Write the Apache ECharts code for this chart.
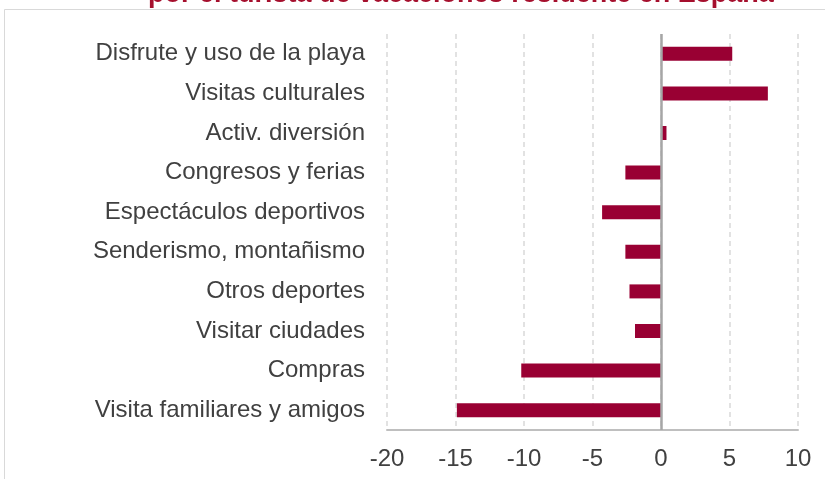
<!DOCTYPE html>
<html>
<head>
<meta charset="utf-8">
<script src="https://cdn.jsdelivr.net/npm/echarts@6/dist/echarts.min.js"></script>
<style>
  html, body { margin: 0; padding: 0; background: #fff; }
  #main { width: 825px; height: 479px; }
</style>
</head>
<body>
<div id="main"></div>
<script>
// categorias (de abajo arriba, como en el eje de Excel)
var categorias = [
  'Visita familiares y amigos',
  'Compras',
  'Visitar ciudades',
  'Otros deportes',
  'Senderismo, montañismo',
  'Espectáculos deportivos',
  'Congresos y ferias',
  'Activ. diversión',
  'Visitas culturales',
  'Disfrute y uso de la playa'
];
var valores = [-14.9, -10.2, -1.9, -2.3, -2.6, -4.3, -2.6, 0.4, 7.8, 5.2];
var titulo = 'por el turista de vacaciones residente en España';

var fuente = 'Liberation Sans, Arial, sans-serif';
var chart = echarts.init(document.getElementById('main'));

var option = {
  animation: false,
  backgroundColor: '#fff',
  graphic: [
    {
      type: 'rect',
      shape: { x: 4.5, y: 9.5, width: 900, height: 600 },
      style: { fill: 'none', stroke: '#d9d9d9', lineWidth: 1 },
      silent: true
    },
    {
      // titulo cortado por arriba, como en la imagen original
      type: 'text',
      left: 148,
      top: -19,
      style: {
        text: titulo,
        fill: '#a50f2d',
        font: 'bold 27px ' + fuente
      },
      silent: true
    }
  ],
  grid: {
    left: 387,
    right: 27,
    top: 34,
    bottom: 49
  },
  xAxis: {
    type: 'value',
    min: -20,
    max: 10,
    interval: 5,
    axisLine: { show: true, onZero: false, lineStyle: { color: '#bfbfbf', width: 2 } },
    axisTick: { show: false },
    axisLabel: { color: '#404040', fontSize: 24, fontFamily: fuente, margin: 17 },
    splitLine: { show: true, lineStyle: { color: '#d9d9d9', type: [5, 4], width: 1.5 } }
  },
  yAxis: {
    type: 'category',
    data: categorias,
    axisLine: { show: false },
    axisTick: { show: false },
    axisLabel: { color: '#404040', fontSize: 24, fontFamily: fuente, margin: 22, padding: [4, 0, 0, 0] },
    splitLine: { show: false }
  },
  series: [{
    type: 'bar',
    data: valores,
    barWidth: 14,
    itemStyle: { color: '#990033' },
    // linea del cero
    markLine: {
      silent: true,
      symbol: 'none',
      label: { show: false },
      lineStyle: { color: '#a6a6a6', type: 'solid', width: 2.5 },
      data: [{ xAxis: 0 }]
    }
  }]
};
chart.setOption(option);
</script>
</body>
</html>
